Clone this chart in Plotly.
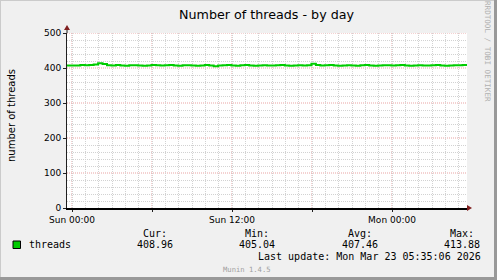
import pandas as pd
import plotly.graph_objects as go

# ---------------- data ----------------
title = "Number of threads - by day"
y_label = "number of threads"
series_name = "threads"
start_time = "2026-03-21 23:37:30"
sample_step = "20min"
threads = [
    407.2, 406.8, 407.5, 408.4, 407.9,
    408.6, 410.2, 413.88, 411.3, 407.6,
    406.9, 408.5, 407.3, 406.5, 407.8,
    408.1, 407.0, 406.2, 407.4, 408.3,
    407.6, 406.9, 407.9, 408.6, 407.2,
    406.4, 407.7, 408.2, 407.1, 406.6,
    407.5, 408.4, 407.3, 405.04, 406.9,
    407.8, 408.5, 407.2, 406.7, 407.6,
    408.3, 407.0, 406.3, 407.4, 408.1,
    407.5, 406.8, 407.9, 408.7, 407.1,
    406.5, 407.3, 408.0, 407.4, 408.2,
    412.1, 408.4, 406.9, 407.6, 408.3,
    407.2, 406.4, 407.5, 408.1, 407.0,
    406.7, 407.8, 408.5, 407.3, 406.6,
    407.4, 408.2, 407.6, 406.9, 407.7,
    408.4, 407.1, 406.5, 407.3, 408.0,
    407.5, 406.8, 407.6, 408.3, 407.2,
    406.6, 407.4, 408.1, 407.8, 408.5,
    408.96,
]
x_range = ["2026-03-21 23:37:30", "2026-03-23 05:37:30"]
major_ticks = ["2026-03-22 00:00", "2026-03-22 06:00", "2026-03-22 12:00",
               "2026-03-22 18:00", "2026-03-23 00:00"]
major_labels = ["Sun 00:00", "", "Sun 12:00", "", "Mon 00:00"]
y_range = [0, 500]
y_majors = [100, 200, 300, 400, 500]
stat_heads = ["Cur:", "Min:", "Avg:", "Max:"]
stat_values = ["408.96", "405.04", "407.46", "413.88"]
last_update = "Last update: Mon Mar 23 05:35:06 2026"
footer = "Munin 1.4.5"
side_text = "RRDTOOL / TOBI OETIKER"

times = pd.date_range(start_time, periods=len(threads), freq=sample_step)

# ---------------- layout helpers ----------------
W, H = 497, 280
L, T, PW, PH = 67, 33, 400, 175
def px(x):
    return (x - L) / PW
def py(y):
    return (T + PH - y) / PH

GREEN = "#00CC00"
SANS = "DejaVu Sans"
MONO = "DejaVu Sans Mono"
MGRID = "#E9A3A3"
GRID = "#D2D2D2"
ARROW = "#801F1F"
DASH = "1px,1px"

fig = go.Figure()
fig.add_trace(go.Scatter(x=times, y=threads, mode="lines",
                         line=dict(color=GREEN, width=2, shape="hv"),
                         hoverinfo="skip", showlegend=False))

fig.update_layout(
    width=W, height=H,
    margin=dict(l=L, r=W - L - PW, t=T, b=H - T - PH),
    paper_bgcolor="#F0F0F0", plot_bgcolor="#FFFFFF",
    showlegend=False,
    font=dict(family=SANS, size=9, color="#000000"),
)
fig.update_xaxes(
    type="date", range=x_range,
    tickmode="array", tickvals=major_ticks, ticktext=major_labels,
    showgrid=False,
    minor=dict(dtick=3600000, tick0="2026-03-22 00:00", showgrid=True,
               gridcolor=GRID, griddash=DASH, gridwidth=1),
    showline=True, linecolor="#000000", linewidth=2,
    ticks="outside", ticklen=2, tickcolor="#202020",
    tickfont=dict(family=SANS, size=9, color="#000000"),
    zeroline=False, fixedrange=True,
)
fig.update_yaxes(
    range=y_range, dtick=100, tick0=0,
    showgrid=False,
    minor=dict(dtick=20, tick0=0, showgrid=True,
               gridcolor=GRID, griddash=DASH, gridwidth=1),
    showline=True, linecolor="#202020", linewidth=1,
    ticks="outside", ticklen=3, tickcolor="#202020",
    tickfont=dict(family=SANS, size=9, color="#000000"),
    zeroline=False, fixedrange=True,
)

shapes = []
# major grid (red dotted) on top of minor grid, below data
for t in major_ticks:
    shapes.append(dict(type="line", xref="x", yref="paper", x0=t, x1=t, y0=0, y1=1,
                       layer="between", line=dict(color=MGRID, width=1, dash=DASH)))
for v in y_majors:
    shapes.append(dict(type="line", xref="paper", yref="y", x0=0, x1=1, y0=v, y1=v,
                       layer="between", line=dict(color=MGRID, width=1, dash=DASH)))
# arrows
shapes.append(dict(type="path", xref="paper", yref="paper",
                   xsizemode="pixel", ysizemode="pixel", xanchor=px(467), yanchor=py(208),
                   path="M 0,-3 L 5,0 L 0,3 Z", fillcolor=ARROW, line=dict(width=0)))
shapes.append(dict(type="path", xref="paper", yref="paper",
                   xsizemode="pixel", ysizemode="pixel", xanchor=px(67), yanchor=py(30),
                   path="M -3,0 L 3,0 L 0,5 Z", fillcolor=ARROW, line=dict(width=0)))
shapes.append(dict(type="line", xref="paper", yref="paper",
                   x0=px(67), x1=px(67), y0=py(33), y1=py(30),
                   line=dict(color="#202020", width=1)))
# legend box
shapes.append(dict(type="rect", xref="paper", yref="paper",
                   x0=px(13), x1=px(20.5), y0=py(241), y1=py(248.5),
                   fillcolor=GREEN, line=dict(color="#000000", width=1)))
# frame
shapes.append(dict(type="line", xref="paper", yref="paper", x0=px(0), x1=px(497), y0=py(0.5), y1=py(0.5),
                   line=dict(color="#CBCBCB", width=1)))
shapes.append(dict(type="line", xref="paper", yref="paper", x0=px(0.5), x1=px(0.5), y0=py(0), y1=py(280),
                   line=dict(color="#CBCBCB", width=1)))
shapes.append(dict(type="line", xref="paper", yref="paper", x0=px(0), x1=px(497), y0=py(278.5), y1=py(278.5),
                   line=dict(color="#999999", width=3)))
shapes.append(dict(type="line", xref="paper", yref="paper", x0=px(495.5), x1=px(495.5), y0=py(0), y1=py(280),
                   line=dict(color="#999999", width=3)))
fig.update_layout(shapes=shapes)

ann = []
def text(x, y, s, size=10, family=MONO, color="#000000", xanchor="left", angle=0):
    ann.append(dict(x=px(x), y=py(y), xref="paper", yref="paper", text=s, showarrow=False,
                    xanchor=xanchor, yanchor="middle", textangle=angle,
                    font=dict(family=family, size=size, color=color)))

text(267, 14, title, size=12.7, family=SANS, xanchor="center")
text(12, 115, y_label, size=10, family=SANS, xanchor="center", angle=-90)
text(488, 51, side_text, size=7.6, family=MONO, color="#B0B0B0", xanchor="center", angle=90)
text(27, 244, series_name)
head_x = [141, 243, 346, 448]
val_x = [135, 237, 340, 442]
for hx, vx, h, v in zip(head_x, val_x, stat_heads, stat_values):
    text(hx, 233, h)
    text(vx, 244.5, v)
text(483, 256.5, last_update, xanchor="right")
text(272.5, 269.5, footer, size=7.2, color="#A0A0A0", xanchor="right")
fig.update_layout(annotations=ann)

fig.write_html("out.html", config={"displayModeBar": False})
